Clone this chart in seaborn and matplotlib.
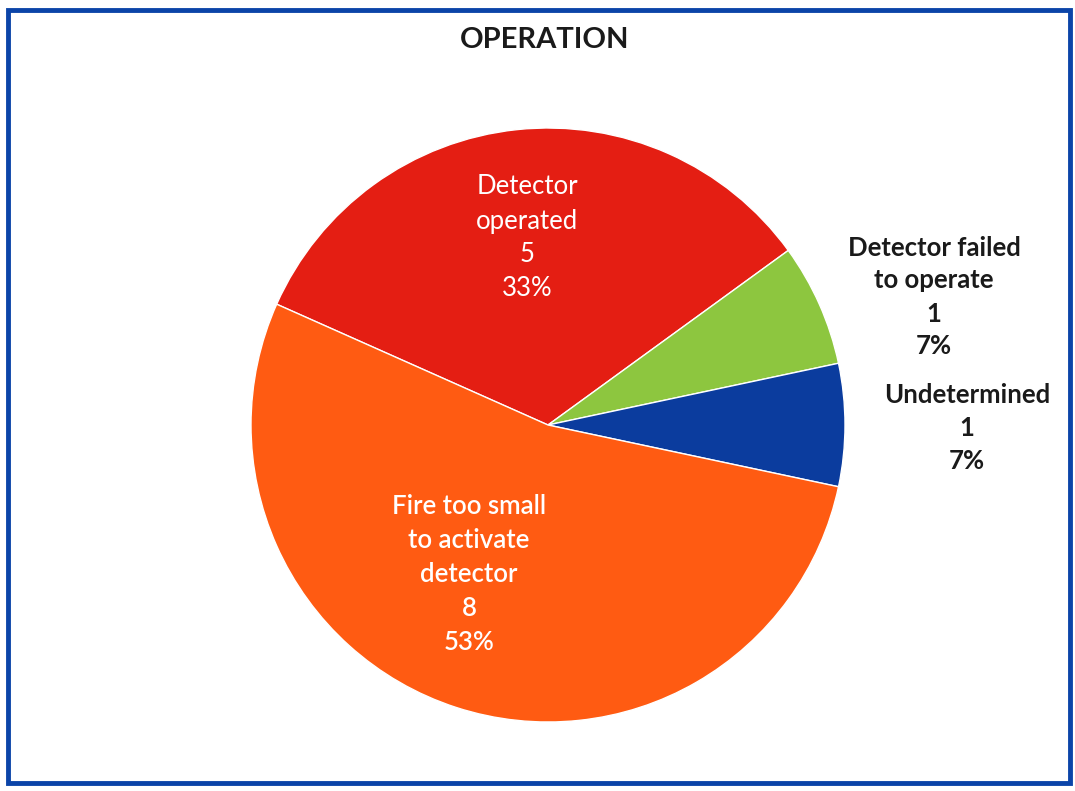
import matplotlib
matplotlib.use("Agg")
import matplotlib.pyplot as plt
import seaborn as sns
from matplotlib.patches import Rectangle

sns.set_theme(style="white")
plt.rcParams['font.family'] = ['Lato', 'DejaVu Sans']

labels = ["Detector\noperated", "Detector failed\nto operate", "Undetermined", "Fire too small\nto activate\ndetector"]
counts = [5, 1, 1, 8]
colors = ["#E41E13", "#8DC63F", "#0B3C9E", "#FF5B12"]

fig = plt.figure(figsize=(10.75, 7.91), dpi=100)
fig.patch.set_facecolor("white")

# pie axes: center ~ (548, 425) px, radius ~297 px
W, H = 1075, 791
cx, cy, r = 548, 425, 297
ax = fig.add_axes([(cx - r) / W, (H - cy - r) / H, 2 * r / W, 2 * r / H])
wedges, _ = ax.pie(counts, colors=colors, startangle=156, counterclock=False,
                   radius=1, wedgeprops=dict(edgecolor="white", linewidth=1))
ax.set_xlim(-1, 1)
ax.set_ylim(-1, 1)
ax.set_aspect("equal")
ax.axis("off")

total = sum(counts)
pcts = [f"{round(c / total * 100)}%" for c in counts]


def px(x, y):
    return (x - cx) / r, (cy - y) / r


# label positions (pixel coords)
label_pos = [(527, 238), (934, 297), (967, 428), (469, 575)]
label_col = ["white", "#1a1a1a", "#1a1a1a", "white"]
label_wt = ["normal", "bold", "bold", "semibold"]
for lab, c, p, pos, col, wt in zip(labels, counts, pcts, label_pos, label_col, label_wt):
    x, y = px(*pos)
    ax.text(x, y, f"{lab}\n{c}\n{p}", ha="center", va="center", color=col,
            fontsize=18.5, fontweight=wt, linespacing=1.45, clip_on=False)

fig.text(545 / W, 1 - 40 / H, "OPERATION", ha="center", va="center",
         fontsize=21, fontweight="bold", color="#1a1a1a")

# blue frame around the chart
fig.patches.append(Rectangle((8 / W, 8 / H), 1062 / W, 773 / H, transform=fig.transFigure,
                             fill=False, edgecolor="#0B44A8", linewidth=3.5))

fig.savefig("out.png", dpi=100)
